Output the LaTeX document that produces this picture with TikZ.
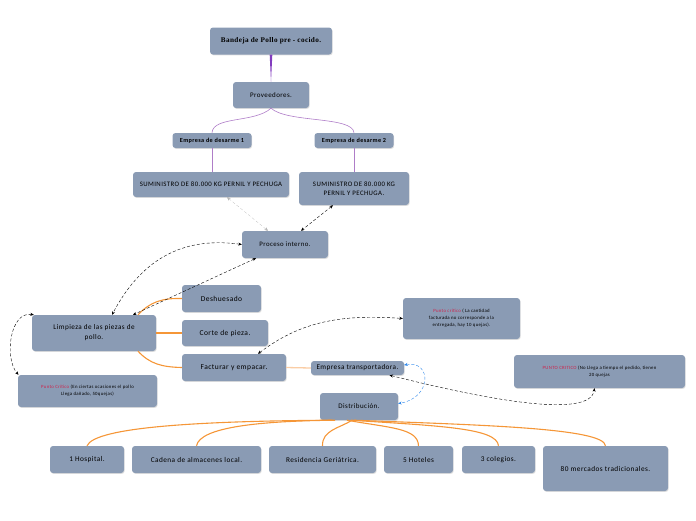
\documentclass[tikz,border=0pt]{standalone}
\usepackage{fontspec}
\setmainfont{Carlito}[LetterSpace=6]
\newfontfamily\titlefont{Liberation Serif}[LetterSpace=5]
\usetikzlibrary{arrows.meta,shadows}

\definecolor{boxfill}{RGB}{138,155,180}
\definecolor{crit}{RGB}{205,35,75}
\definecolor{orangeln}{RGB}{245,150,55}
\definecolor{paleorange}{RGB}{250,205,165}
\definecolor{purpleln}{RGB}{130,60,190}
\definecolor{lilac}{RGB}{175,125,200}
\definecolor{blueln}{RGB}{45,135,235}

\begin{document}
\begin{tikzpicture}[x=1pt, y=-1pt,
  >={Stealth[length=3.5pt,width=3pt]},
  box/.style={rounded corners=3pt, fill=boxfill, inner sep=1pt, align=center,
    drop shadow={opacity=0.25, shadow xshift=0.7pt, shadow yshift=-0.9pt},
    font=\fontsize{7.5}{9}\selectfont},
  small/.style={box, font=\fontsize{6.8}{9}\selectfont},
  note/.style={box, font=\fontsize{4.8}{7}\selectfont},
  branch/.style={orangeln, line width=1.1pt},
  link/.style={densely dashed, thin, <->},
  linkgray/.style={densely dashed, very thin, gray!60, <->},
  linkblue/.style={densely dashed, thin, blueln, <->}
]
\useasboundingbox (0,0) rectangle (696,520);

% --- supply chain ---
\node[box, minimum width=122pt, minimum height=27pt, font=\titlefont\bfseries\fontsize{7.2}{8}\selectfont] (bandeja) at (271,41) {Bandeja de Pollo pre - cocido.};
\node[box, minimum width=76pt, minimum height=26pt, font=\fontsize{7}{8}\selectfont] (prov) at (271,95) {Proveedores.};
\node[small, minimum width=79pt, minimum height=15pt, font=\bfseries\fontsize{6.2}{7}\selectfont] (emp1) at (212,140.5) {Empresa de desarme 1};
\node[small, minimum width=79pt, minimum height=15pt, font=\bfseries\fontsize{6.2}{7}\selectfont] (emp2) at (354,140.5) {Empresa de desarme 2};
\node[small, minimum width=156pt, minimum height=25pt] (sum1) at (211,184.5) {SUMINISTRO DE 80.000 KG PERNIL Y PECHUGA};
\node[small, minimum width=110pt, minimum height=33pt] (sum2) at (354,188.5) {SUMINISTRO DE 80.000 KG\\PERNIL Y PECHUGA.};
\node[box, minimum width=86pt, minimum height=27pt, font=\fontsize{6.8}{8}\selectfont] (proc) at (285,244.5) {Proceso interno.};

% --- plant ---
\node[box, minimum width=124pt, minimum height=36pt, font=\fontsize{7.2}{10}\selectfont] (limp) at (94,333) {Limpieza de las piezas de\\pollo.};
\node[box, minimum width=79pt, minimum height=27pt] (desh) at (221.5,298.5) {Deshuesado};
\node[box, minimum width=86pt, minimum height=26pt] (corte) at (225,333) {Corte de pieza.};
\node[box, minimum width=104pt, minimum height=27pt] (fact) at (234,367.5) {Facturar y empacar.};
\node[box, minimum width=93pt, minimum height=14pt, inner sep=0pt, font=\fontsize{7.2}{8}\selectfont] (trans) at (357.5,368) {Empresa transportadora.};
\node[box, minimum width=78pt, minimum height=27pt, font=\fontsize{7}{8}\selectfont] (dist) at (359,406.5) {Distribución.};

% --- critical points ---
\node[note, minimum width=117pt, minimum height=41pt] (pc1) at (461.5,318.5) {{\color{crit}Punto crítico} ( La cantidad\\facturada no corresponde a la\\entregada, hay 10 quejas).};
\node[note, minimum width=171pt, minimum height=33pt] (pc2) at (599.5,371.5) {{\color{crit}PUNTO CRITICO} (No Llega a tiempo el pedido, tienen\\20 quejas};
\node[note, minimum width=139pt, minimum height=32pt] (pc3) at (87.5,391) {{\color{crit}Punto Crítico} (En ciertas ocasiones el pollo\\Llega dañado, 50quejas)};

% --- customers ---
\node[box, minimum width=74pt, minimum height=27pt, font=\fontsize{7.3}{9}\selectfont] (hosp) at (87,459.5) {1 Hospital.};
\node[box, minimum width=129pt, minimum height=27pt, font=\fontsize{7.3}{9}\selectfont] (cadena) at (196.5,459.5) {Cadena de almacenes local.};
\node[box, minimum width=107pt, minimum height=27pt, font=\fontsize{7.3}{9}\selectfont] (resid) at (322.5,459.5) {Residencia Geriátrica.};
\node[box, minimum width=69pt, minimum height=27pt, font=\fontsize{7.3}{9}\selectfont] (hotel) at (418.5,459.5) {5 Hoteles};
\node[box, minimum width=73pt, minimum height=27pt, font=\fontsize{7.3}{9}\selectfont] (coleg) at (498.5,459.5) {3 colegios.};
\node[box, minimum width=125pt, minimum height=45pt, text depth=-6pt, font=\fontsize{7.3}{9}\selectfont] (merc) at (605.5,468.5) {80 mercados tradicionales.};

% --- tree edges ---
\fill[purpleln] ([xshift=-1.3pt]bandeja.south) -- ([xshift=1.3pt]bandeja.south) -- (prov.north) -- cycle;
\draw[lilac, line width=0.6pt] (prov.south) .. controls (255,123) and (213,116) .. (emp1.north);
\draw[lilac, line width=0.6pt] (prov.south) .. controls (287,123) and (353,116) .. (emp2.north);
\draw[lilac, line width=0.6pt] (emp1.south) -- (emp1.south |- sum1.north);
\draw[lilac, line width=0.6pt] (emp2.south) -- (sum2.north);

% --- plant edges ---
\draw[branch] ([xshift=44pt]limp.north) .. controls (150,302) and (162,298) .. (desh.west);
\draw[branch] (limp.east) -- (corte.west);
\draw[branch] ([xshift=44pt]limp.south) .. controls (150,364) and (162,367) .. (fact.west);
\draw[paleorange, line width=1.3pt] (fact.east) -- (trans.west);

% --- distribution edges ---
\draw[branch] ([xshift=-27pt]dist.south) .. controls (200,421) and (95,427) .. (hosp.north);
\draw[branch] ([xshift=-24pt]dist.south) .. controls (260,421) and (200,427) .. (cadena.north);
\draw[branch] ([xshift=-7pt]dist.south) .. controls (340,428) and (322,430) .. (resid.north);
\draw[branch] ([xshift=-12pt]dist.south) .. controls (390,428) and (418,428) .. (hotel.north);
\draw[branch] ([xshift=-8pt]dist.south) .. controls (440,426) and (497,428) .. (coleg.north);
\draw[branch] ([xshift=-5pt]dist.south) .. controls (480,425) and (604,428) .. (merc.north);

% --- dashed links ---
\draw[linkgray] ([xshift=16pt]sum1.south) -- ([xshift=-17pt]proc.north);
\draw[link] ([xshift=-21pt]sum2.south) -- ([xshift=16pt]proc.north);
\draw[link] (proc.west) .. controls (180,236) and (140,262) .. ([xshift=18pt]limp.north);
\draw[link] ([xshift=-29pt]proc.south) -- ([xshift=39pt]limp.north);
\draw[link] ([xshift=2pt]limp.north west) .. controls (10,311) and (4,358) .. ([xshift=-69pt]pc3.north);
\draw[link] ([xshift=24pt]fact.north) .. controls (300,322) and (340,314) .. (pc1.west);
\draw[link] ([xshift=32pt]trans.south) .. controls (480,398) and (590,420) .. ([xshift=-5pt]pc2.south);
\draw[linkblue] ([yshift=3pt]trans.east) .. controls (432,360) and (432,398) .. ([yshift=3pt]dist.east);

\end{tikzpicture}
\end{document}
